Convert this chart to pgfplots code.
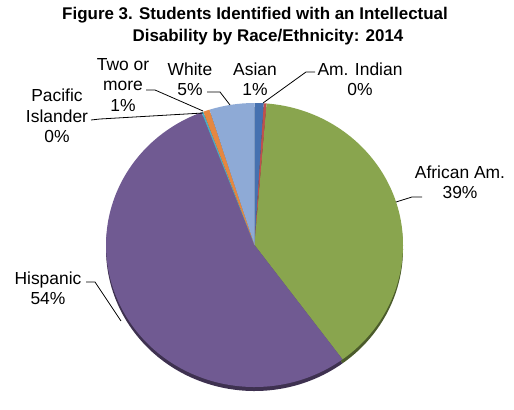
\documentclass[border=0pt]{standalone}
\usepackage{pgfplots}
\pgfplotsset{compat=1.18}
\usepackage{fontspec}
\setmainfont{Liberation Sans}
\definecolor{cAsian}{RGB}{70,113,176}
\definecolor{cAmInd}{RGB}{192,80,77}
\definecolor{cAfr}{RGB}{137,165,78}
\definecolor{cHisp}{RGB}{112,90,146}
\definecolor{cPac}{RGB}{75,172,198}
\definecolor{cTwo}{RGB}{229,135,65}
\definecolor{cWhite}{RGB}{142,170,214}
\begin{document}
\begin{tikzpicture}
\begin{axis}[
  hide axis, x=1bp, y=1bp,
  xmin=0, xmax=514, ymin=0, ymax=394,
  clip=false,
]
\path (rel axis cs:0,0) rectangle (rel axis cs:1,1);
% 3D rim
\def\cum{0}
\pgfplotsforeachungrouped \val/\col in {1.0/cAsian, 0.3/cAmInd, 38.6/cAfr, 54.3/cHisp, 0.2/cPac, 0.7/cTwo, 4.9/cWhite} {
  \pgfmathsetmacro\aone{90-3.6*\cum}
  \pgfmathsetmacro\atwo{90-3.6*(\cum+\val)}
  \edef\tmp{\noexpand\fill[\col!55!black] (axis cs:254.5,145) -- ++(\aone:148.5bp and 142bp) arc[start angle=\aone, end angle=\atwo, x radius=148.5bp, y radius=142bp] -- cycle;}
  \tmp
  \pgfmathsetmacro\cum{\cum+\val}
}
\def\cum{0}
\pgfplotsforeachungrouped \val/\col in {1.0/cAsian, 0.3/cAmInd, 38.6/cAfr, 54.3/cHisp, 0.2/cPac, 0.7/cTwo, 4.9/cWhite} {
  \pgfmathsetmacro\aone{90-3.6*\cum}
  \pgfmathsetmacro\atwo{90-3.6*(\cum+\val)}
  \edef\tmp{\noexpand\fill[\col] (axis cs:254.5,149) -- ++(\aone:148.5bp and 142bp) arc[start angle=\aone, end angle=\atwo, x radius=148.5bp, y radius=142bp] -- cycle;}
  \tmp
  \pgfmathsetmacro\cum{\cum+\val}
}
% title
\tikzset{ttl/.style={anchor=base, font=\bfseries\fontsize{17}{19}\selectfont, inner sep=0pt}}
\node[ttl] at (axis cs:255,374) {Figure 3. Students Identified with an Intellectual};
\node[ttl] at (axis cs:268,352) {Disability by Race/Ethnicity: 2014};
% labels
\tikzset{lbl/.style={align=center, font=\fontsize{17.5}{20.5}\selectfont, inner sep=0pt}}
\node[lbl] at (axis cs:123,309) {Two or\\more\\1\%};
\node[lbl] at (axis cs:57,278) {Pacific\\Islander\\0\%};
\node[lbl] at (axis cs:190,315) {White\\5\%};
\node[lbl] at (axis cs:255,315) {Asian\\1\%};
\node[lbl] at (axis cs:360,315) {Am. Indian\\0\%};
\node[lbl] at (axis cs:460,212) {African Am.\\39\%};
\node[lbl] at (axis cs:48,106) {Hispanic\\54\%};
% leader lines
\draw[black, line width=0.8pt] (axis cs:146,304) -- (axis cs:155,304) -- (axis cs:203,283);
\draw[black, line width=0.8pt] (axis cs:91,274) -- (axis cs:100,275) -- (axis cs:203,281);
\draw[black, line width=0.8pt] (axis cs:207,302) -- (axis cs:220,302) -- (axis cs:230,289);
\draw[black, line width=0.8pt] (axis cs:263,291) -- (axis cs:306,322) -- (axis cs:315,322);
\draw[black, line width=0.8pt] (axis cs:422,197) -- (axis cs:412,197) -- (axis cs:396,192);
\draw[black, line width=0.8pt] (axis cs:86,112) -- (axis cs:95,112) -- (axis cs:121,73);
\end{axis}
\end{tikzpicture}
\end{document}
